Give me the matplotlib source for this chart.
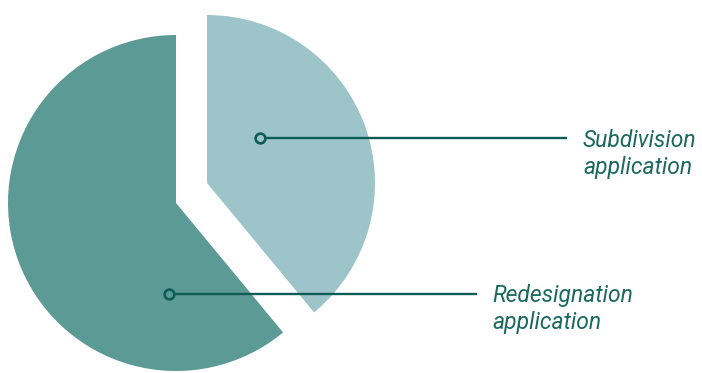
import numpy as np
import matplotlib.pyplot as plt
from matplotlib.patches import Wedge

# share of applications
labels = ["Subdivision\napplication", "Redesignation\napplication"]
shares = [39, 61]
colors = ["#9dc4c9", "#5c9a95"]

LINE = "#0e5c55"


def main():
    fig = plt.figure(figsize=(7.02, 3.73), dpi=100)
    ax = fig.add_axes([0, 0, 1, 1])
    ax.set_xlim(0, 702)
    ax.set_ylim(0, 373)
    ax.set_aspect("equal")
    ax.axis("off")

    r = 168
    centers = [(207, 190), (176, 170)]  # light slice pulled out up/right
    frac = np.array(shares) / sum(shares)
    start = 90.0
    for i in range(len(shares)):
        end = start - 360 * frac[i]
        ax.add_patch(Wedge(centers[i], r, end, start, color=colors[i], lw=0))
        start = end

    # leader lines: (dot x, dot y, line end x, text x, text y)
    leaders = [(260, 235, 567, 583, 219), (169, 79, 477, 492, 64)]
    for i, (x0, y0, x1, tx, ty) in enumerate(leaders):
        ax.plot([x0, x1], [y0, y0], color=LINE, lw=1.7, solid_capstyle="butt")
        ax.plot([x0], [y0], "o", ms=7, mfc=colors[i], mec=LINE, mew=1.9)
        ax.text(tx, ty, labels[i], fontsize=16.5, style="italic",
                fontfamily="Roboto", color="#1a6961",
                va="center", ha="left", linespacing=1.2)

    fig.savefig("out.png", dpi=100)


if __name__ == "__main__":
    main()
